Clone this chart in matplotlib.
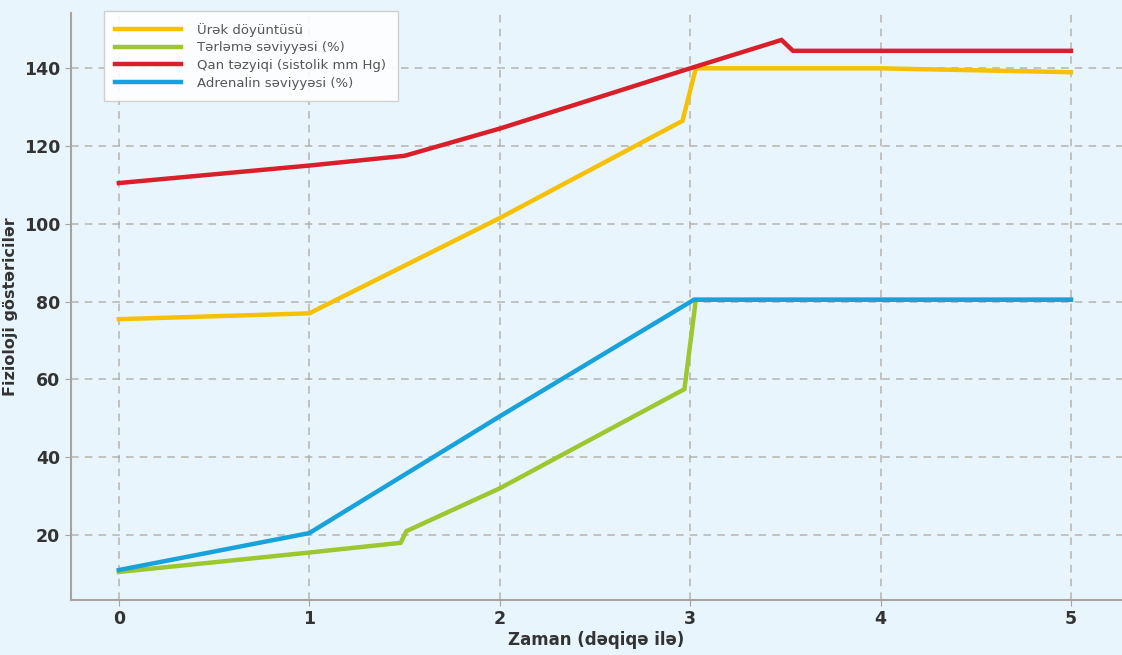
import matplotlib.pyplot as plt

# time points (minutes) and values for each series
heart_x = [0, 1, 2, 2.96, 3.03, 4, 5]
heart_y = [75.5, 77, 101.5, 126.5, 140, 140, 139]

sweat_x = [0, 1, 1.48, 1.51, 2, 2.97, 3.03, 4, 5]
sweat_y = [10.5, 15.5, 18, 21, 32, 57.5, 80.5, 80.5, 80.5]

pressure_x = [0, 1, 1.5, 2, 3, 3.48, 3.54, 4, 5]
pressure_y = [110.5, 115, 117.5, 124.5, 140, 147.3, 144.5, 144.5, 144.5]

adrenaline_x = [0, 1, 2, 3.02, 4, 5]
adrenaline_y = [11, 20.5, 50.5, 80.5, 80.5, 80.5]

labels = ["Ürək döyüntüsü", "Tərləmə səviyyəsi (%)",
          "Qan təzyiqi (sistolik mm Hg)", "Adrenalin səviyyəsi (%)"]
colors = ["#f6c104", "#9dc72e", "#d81f2a", "#17a2dc"]

bg = "#e9f5fd"

fig = plt.figure(figsize=(11.22, 6.55), dpi=100, facecolor=bg)
ax = fig.add_axes([0.063, 0.084, 0.937, 0.896], facecolor=bg)

series = [(heart_x, heart_y), (sweat_x, sweat_y),
          (pressure_x, pressure_y), (adrenaline_x, adrenaline_y)]
for (xs, ys), lab, col in zip(series, labels, colors):
    ax.plot(xs, ys, color=col, linewidth=3.2, label=lab,
            solid_joinstyle="miter")

ax.set_xlim(-0.253, 5.268)
ax.set_ylim(3.3, 154.2)
ax.set_xticks([0, 1, 2, 3, 4, 5])
ax.set_yticks([20, 40, 60, 80, 100, 120, 140])
ax.grid(True, linestyle=(0, (5, 4)), color="#a9a59c", linewidth=1.1, alpha=0.8)
ax.set_axisbelow(True)

for side in ["top", "right"]:
    ax.spines[side].set_visible(False)
for side in ["left", "bottom"]:
    ax.spines[side].set_color("#a8a2a0")
    ax.spines[side].set_linewidth(1.5)

ax.tick_params(axis="both", colors="#a8a2a0", labelcolor="#333333",
               length=4, labelsize=12.5)
for lbl in ax.get_xticklabels() + ax.get_yticklabels():
    lbl.set_fontweight("bold")

ax.set_xlabel("Zaman (dəqiqə ilə)", fontsize=12, fontweight="bold",
              color="#333333", labelpad=2)
ax.set_ylabel("Fizioloji göstəricilər", fontsize=11.5, fontweight="bold",
              color="#333333", labelpad=4)

leg = ax.legend(loc="upper left", bbox_to_anchor=(0.025, 1.015),
                fontsize=9.5, frameon=True, fancybox=False,
                handlelength=5, borderpad=0.9, labelspacing=0.35,
                handletextpad=1.2)
leg.get_frame().set_facecolor("white")
leg.get_frame().set_edgecolor("#cccccc")
leg.get_frame().set_alpha(0.9)
for t in leg.get_texts():
    t.set_color("#555555")

fig.savefig("out.png", dpi=100, facecolor=bg)
